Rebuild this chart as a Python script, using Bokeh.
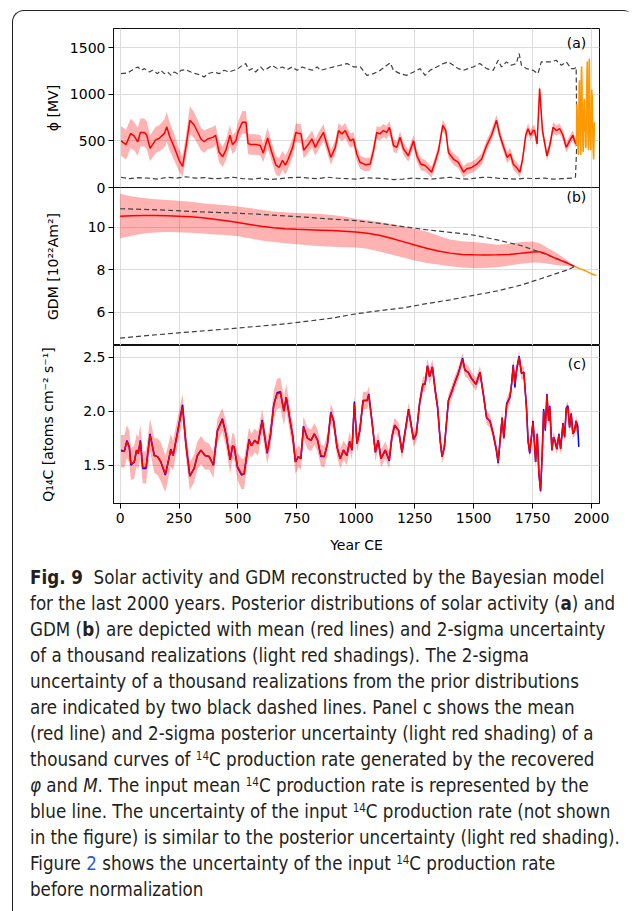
import math
import numpy as np
from bokeh.plotting import figure
from bokeh.models import Range1d, FixedTicker, Label, Div, NumeralTickFormatter
from bokeh.layouts import column, row
from bokeh.embed import file_html
from bokeh.resources import INLINE

# ---------------- data ----------------
x_ticks = [0, 250, 500, 750, 1000, 1250, 1500, 1750, 2000]

# Panel (a): solar modulation potential phi [MV]
years_a = [4,25,45,60,75,86,103,113,127,151,
           165,188,198,210,230,251,265,279,296,314,
           328,343,357,371,395,405,420,435,449,466,
           477,491,501,519,534,543,555,576,595,607,
           626,643,661,675,689,701,711,732,746,757,
           767,779,800,814,828,842,863,877,894,913,
           927,941,955,976,990,1004,1018,1040,1061,1075,
           1089,1103,1117,1131,1143,1160,1174,1188,1202,1223,
           1245,1259,1276,1294,1308,1322,1336,1351,1369,1382,
           1393,1414,1435,1457,1471,1492,1513,1534,1555,1576,
           1597,1611,1625,1642,1656,1668,1682,1696,1707,1721,
           1731,1741,1752,1759,1769,1780,1792,1802,1811,1823,
           1837,1851,1865,1879,1893,1907,1921,1933,1936]
phi_mean = [500,460,580,550,490,590,590,560,420,510,
            525,580,650,550,430,290,225,430,720,670,
            600,520,490,520,540,560,380,330,400,560,
            460,500,600,700,700,470,460,460,450,370,
            530,380,240,215,290,240,290,430,590,580,
            580,400,467,520,430,500,590,467,323,430,
            610,575,610,500,520,360,270,245,252,395,
            590,575,610,590,645,450,430,540,415,340,
            500,340,250,235,200,165,270,395,665,610,
            375,305,270,165,200,215,250,305,450,560,
            720,560,450,323,360,250,215,165,290,560,
            630,560,610,610,467,1060,610,467,340,450,
            645,610,630,560,430,500,560,467,480]
phi_sig = [160,160,160,150,150,150,150,150,140,140,
           140,150,160,150,140,120,110,120,150,140,
           130,120,120,110,110,110,110,110,110,110,
           100,100,110,120,120,110,110,110,110,100,
           110,100,100,100,100,100,100,100,100,100,
           100,90,90,90,90,90,90,80,80,80,
           80,80,80,75,75,75,70,70,70,70,
           70,70,70,70,70,65,65,65,65,65,
           65,65,65,60,60,60,60,60,60,60,
           60,60,60,60,60,60,60,60,60,60,
           60,60,60,60,60,60,60,55,55,55,
           55,55,55,55,55,55,55,55,55,55,
           55,55,55,55,55,55,50,40,30]
phi_prior_hi_years = [4,32,60,75,89,103,124,138,159,173,
                      188,202,216,230,244,258,279,300,321,343,
                      357,371,399,420,441,462,483,500,519,533,
                      547,561,575,596,610,624,646,667,688,709,
                      730,751,772,793,815,836,850,878,906,934,
                      963,991,1019,1047,1075,1104,1132,1146,1160,1188,
                      1216,1245,1273,1294,1315,1343,1371,1393,1414,1435,
                      1456,1477,1498,1526,1555,1583,1604,1618,1639,1660,
                      1681,1693,1703,1724,1752,1773,1787,1808,1829,1850,
                      1872,1893,1914,1928,1935,1938]
phi_prior_hi = [1220,1227,1274,1292,1256,1274,1238,1256,1220,1256,
                1220,1238,1202,1238,1220,1256,1263,1238,1220,1202,
                1184,1220,1238,1220,1256,1238,1256,1274,1310,1328,
                1256,1274,1238,1292,1256,1274,1310,1274,1292,1263,
                1292,1256,1292,1274,1256,1292,1256,1274,1292,1310,
                1328,1292,1292,1202,1220,1256,1310,1335,1256,1220,
                1202,1238,1274,1202,1256,1292,1328,1346,1310,1274,
                1256,1274,1292,1328,1274,1256,1364,1292,1346,1310,
                1328,1436,1310,1274,1256,1220,1346,1346,1346,1364,
                1310,1346,1274,1274,1290,480]
phi_prior_lo_years = [4,40,80,120,160,200,240,280,320,360,
                      400,440,480,520,560,600,640,680,720,760,
                      800,840,880,920,960,1000,1040,1080,1120,1160,
                      1200,1240,1280,1320,1360,1400,1440,1480,1520,1560,
                      1600,1640,1680,1720,1760,1800,1840,1880,1920,1932,
                      1938]
phi_prior_lo = [110,95,105,100,90,110,100,115,100,105,
                95,100,110,95,90,100,85,95,105,110,
                100,95,110,100,95,90,105,100,95,85,
                90,100,95,90,100,110,95,90,105,110,
                100,95,90,100,95,100,90,95,100,110,
                480]
phi_obs_years = [1936,1937,1938,1939,1940,1941,1942,1943,1944,1945,
                 1946,1947,1948,1949,1950,1951,1952,1953,1954,1955,
                 1956,1957,1958,1959,1960,1961,1962,1963,1964,1965,
                 1966,1967,1968,1969,1970,1971,1972,1973,1974,1975,
                 1976,1977,1978,1979,1980,1981,1982,1983,1984,1985,
                 1986,1987,1988,1989,1990,1991,1992,1993,1994,1995,
                 1996,1997,1998,1999,2000,2001,2002,2003,2004,2005,
                 2006,2007,2008,2009,2010,2011,2012,2013]
phi_obs = [450,700,900,850,700,650,550,450,350,400,
           700,1000,1100,1150,900,800,600,450,350,450,
           900,1250,1300,1200,1100,800,600,500,400,380,
           500,750,900,950,900,750,700,600,650,450,
           420,450,700,1000,1100,1250,1350,1000,850,600,
           450,400,600,1100,1350,1380,1100,800,650,500,
           450,400,550,700,950,1050,1000,1000,750,700,
           500,400,350,300,400,550,650,700]

# Panel (b): geomagnetic dipole moment [1e22 Am2]
years_b = [0,50,100,150,200,250,300,350,400,450,
           500,550,600,650,700,750,800,850,900,950,
           1000,1050,1100,1150,1200,1250,1300,1350,1400,1450,
           1500,1550,1600,1650,1700,1750,1780,1800,1850,1900,1928]
gdm_mean = [10.52,10.54,10.55,10.55,10.54,10.52,10.49,10.44,10.37,10.30,
            10.22,10.13,10.04,9.97,9.93,9.90,9.88,9.86,9.84,9.81,
            9.78,9.72,9.62,9.48,9.32,9.16,9.01,8.88,8.78,8.72,
            8.70,8.69,8.70,8.72,8.77,8.83,8.85,8.78,8.52,8.30,8.15]
gdm_upper = [11.57,11.45,11.38,11.32,11.28,11.25,11.20,11.13,11.08,11.03,
             10.98,10.90,10.82,10.74,10.70,10.67,10.64,10.62,10.58,10.50,
             10.40,10.33,10.25,10.15,10.04,9.93,9.80,9.60,9.42,9.34,
             9.30,9.24,9.18,9.22,9.30,9.33,9.25,9.12,8.80,8.42,8.15]
gdm_lower = [9.48,9.60,9.70,9.75,9.77,9.76,9.74,9.70,9.66,9.63,
             9.58,9.48,9.38,9.30,9.24,9.20,9.15,9.10,9.08,9.06,
             9.05,8.98,8.86,8.72,8.57,8.43,8.32,8.24,8.16,8.10,
             8.07,8.08,8.12,8.20,8.28,8.34,8.33,8.30,8.22,8.16,8.15]
gdm_prior_years = [0,100,200,300,400,500,600,700,800,900,
                   1000,1100,1200,1300,1400,1500,1600,1700,1800,1900,1928]
gdm_prior_hi = [10.87,10.84,10.80,10.74,10.70,10.66,10.60,10.53,10.46,10.38,
                10.31,10.18,10.03,9.88,9.76,9.63,9.40,9.14,8.75,8.32,8.15]
gdm_prior_lo = [4.78,4.88,4.98,5.07,5.16,5.25,5.35,5.45,5.58,5.72,
                5.92,6.07,6.20,6.40,6.58,6.79,7.00,7.27,7.63,8.00,8.15]
gdm_obs_years = [1928,1950,1970,1990,2000,2010,2021]
gdm_obs = [8.15,8.05,7.97,7.86,7.81,7.77,7.72]

# Panel (c): 14C production rate
years_c = [4,18,29,39,46,60,70,77,86,96,
           110,127,145,159,173,192,201,215,225,244,
           265,279,296,314,328,343,360,378,396,413,
           434,449,467,477,484,498,515,526,547,557,
           571,585,603,624,638,652,666,680,695,705,
           719,733,744,756,767,778,795,810,824,838,
           852,866,880,894,906,920,934,948,962,974,
           984,994,1005,1017,1031,1048,1055,1069,1083,1095,
           1107,1125,1142,1153,1165,1182,1196,1210,1224,1245,
           1257,1271,1285,1294,1304,1313,1325,1337,1347,1358,
           1366,1376,1393,1407,1421,1435,1453,1463,1477,1492,
           1510,1527,1541,1555,1569,1583,1597,1604,1611,1621,
           1628,1640,1654,1661,1668,1675,1682,1693,1703,1713,
           1724,1731,1738,1752,1759,1763,1770,1777,1784,1791,
           1797,1804,1811,1818,1823,1832,1839,1846,1853,1862,
           1869,1879,1886,1893,1900,1907,1914,1921,1928,1935,
           1942]
q_post = [1.63,1.63,1.72,1.67,1.51,1.53,1.64,1.61,1.72,1.48,
          1.48,1.78,1.59,1.58,1.53,1.42,1.50,1.64,1.59,1.81,
          2.04,1.70,1.40,1.47,1.59,1.64,1.59,1.58,1.50,1.82,
          1.92,1.79,1.55,1.68,1.67,1.49,1.42,1.42,1.73,1.68,
          1.73,1.70,1.91,1.62,1.78,2.06,2.16,2.17,2.00,2.13,
          1.94,1.76,1.53,1.58,1.56,1.85,1.75,1.73,1.79,1.73,
          1.59,1.58,1.70,1.98,1.91,1.67,1.56,1.64,1.59,1.72,
          1.64,2.07,1.70,1.82,2.10,2.10,2.15,1.90,1.62,1.73,
          1.56,1.64,1.55,1.76,1.87,1.82,1.62,1.82,2.01,1.74,
          1.79,2.08,2.25,2.25,2.42,2.32,2.41,2.19,2.04,1.73,
          1.58,1.67,2.10,2.18,2.27,2.35,2.48,2.38,2.36,2.30,
          2.25,2.36,2.16,1.94,1.91,1.79,1.64,1.53,1.70,1.94,
          1.75,2.06,2.13,2.25,2.42,2.25,2.38,2.50,2.35,2.36,
          2.04,1.73,1.62,1.90,1.67,1.53,1.79,1.42,1.27,1.61,
          2.00,1.84,2.15,1.91,2.04,1.64,1.76,1.72,1.65,1.78,
          1.65,1.88,1.76,2.02,2.04,1.85,1.97,1.79,1.82,1.91,
          1.79]
q_sig = [0.15,0.15,0.15,0.15,0.15,0.15,0.15,0.15,0.15,0.15,
         0.15,0.15,0.16,0.17,0.18,0.17,0.16,0.15,0.14,0.13,
         0.12,0.13,0.13,0.13,0.13,0.13,0.13,0.12,0.12,0.11,
         0.11,0.12,0.13,0.12,0.12,0.13,0.14,0.14,0.12,0.11,
         0.11,0.11,0.11,0.11,0.12,0.13,0.14,0.14,0.13,0.12,
         0.12,0.12,0.11,0.10,0.10,0.10,0.10,0.10,0.10,0.10,
         0.10,0.10,0.10,0.09,0.09,0.09,0.09,0.09,0.09,0.09,
         0.09,0.08,0.08,0.08,0.08,0.08,0.08,0.08,0.08,0.08,
         0.08,0.08,0.08,0.07,0.07,0.07,0.07,0.07,0.07,0.07,
         0.07,0.07,0.07,0.07,0.07,0.07,0.07,0.07,0.07,0.07,
         0.06,0.06,0.06,0.06,0.06,0.06,0.06,0.06,0.06,0.06,
         0.06,0.06,0.06,0.06,0.06,0.06,0.06,0.06,0.06,0.06,
         0.06,0.06,0.06,0.06,0.06,0.06,0.06,0.06,0.06,0.06,
         0.06,0.06,0.06,0.06,0.06,0.06,0.06,0.06,0.06,0.06,
         0.05,0.05,0.05,0.05,0.05,0.05,0.05,0.05,0.05,0.05,
         0.05,0.05,0.05,0.05,0.05,0.05,0.05,0.05,0.05,0.05,
         0.05]
years_c_input = years_c + [1946]
q_input = [1.64,1.63,1.73,1.67,1.50,1.53,1.64,1.61,1.73,1.47,
           1.47,1.79,1.59,1.58,1.53,1.41,1.50,1.65,1.59,1.81,
           2.06,1.70,1.40,1.47,1.59,1.64,1.59,1.58,1.50,1.82,
           1.93,1.79,1.55,1.68,1.67,1.48,1.41,1.42,1.74,1.68,
           1.73,1.70,1.92,1.61,1.78,2.06,2.17,2.18,2.00,2.13,
           1.94,1.76,1.53,1.58,1.56,1.86,1.75,1.73,1.79,1.73,
           1.58,1.58,1.70,1.99,1.91,1.67,1.56,1.64,1.59,1.72,
           1.64,2.09,1.70,1.82,2.10,2.10,2.16,1.90,1.62,1.73,
           1.56,1.64,1.54,1.76,1.87,1.82,1.62,1.82,2.02,1.74,
           1.79,2.08,2.25,2.25,2.42,2.32,2.41,2.19,2.04,1.73,
           1.58,1.67,2.10,2.18,2.27,2.35,2.49,2.38,2.36,2.30,
           2.25,2.36,2.16,1.94,1.91,1.79,1.63,1.52,1.70,1.94,
           1.75,2.07,2.13,2.25,2.43,2.22,2.38,2.51,2.35,2.36,
           2.04,1.72,1.61,1.91,1.67,1.53,1.79,1.42,1.26,1.61,
           2.02,1.82,2.16,1.91,2.05,1.64,1.76,1.72,1.65,1.79,
           1.65,1.89,1.76,2.03,2.05,1.85,1.98,1.79,1.82,1.91,
           1.86,1.67]

y_labels = ["ϕ [MV]", "GDM [10²²Am²]", "Q₁₄C [atoms cm⁻² s⁻¹]"]
panel_tags = ["(a)", "(b)", "(c)"]

# ---------------- styling helpers ----------------
FONT = "DejaVu Sans"
LW = 50          # width of the strip that holds the vertical axis titles
W = 622 - LW     # width of each plot figure
DASH = "5 3"
HA, HB, HC, OVER = 184, 158, 215, 8
xr = Range1d(-28, 2034)


def make_panel(height, yr, yticks, top=0, bottom=0, show_x=False):
    p = figure(width=W, height=height, x_range=xr, y_range=yr,
               output_backend="svg", toolbar_location=None,
               min_border_left=100 - LW, min_border_right=36,
               min_border_top=top, min_border_bottom=bottom)
    p.outline_line_color = "#111111"
    p.outline_line_width = 1
    p.outline_line_alpha = 1
    p.background_fill_color = "white"
    p.border_fill_color = "white"
    p.xaxis.ticker = FixedTicker(ticks=x_ticks)
    p.xgrid.ticker = FixedTicker(ticks=x_ticks)
    p.yaxis.ticker = FixedTicker(ticks=yticks)
    p.ygrid.ticker = FixedTicker(ticks=yticks)
    p.grid.grid_line_color = "#dcdcdc"
    p.grid.grid_line_width = 1
    for ax in (p.xaxis, p.yaxis):
        ax.axis_line_color = "#111111"
        ax.major_tick_line_color = "black"
        ax.major_tick_out = 5
        ax.major_tick_in = 0
        ax.minor_tick_line_color = None
        ax.major_label_text_font = FONT
        ax.major_label_text_font_size = "14px"
        ax.major_label_text_color = "black"
        ax.axis_label_text_font = FONT
        ax.axis_label_text_font_size = "14px"
        ax.axis_label_text_font_style = "normal"
        ax.axis_label_text_color = "black"
        ax.major_label_standoff = 3
    if not show_x:
        p.xaxis.visible = False
    return p


def tag(p, text, y):
    p.add_layout(Label(x=1978, y=y, text=text, text_align="right", text_baseline="middle",
                       text_font=FONT, text_font_size="14px", text_color="black"))


# ---------------- panel (a) ----------------
pa = make_panel(HA, Range1d(0, 1704), [0, 500, 1000, 1500], top=17, bottom=OVER)
pm = np.array(phi_mean, dtype=float)
ps = np.array(phi_sig, dtype=float)
pa.varea(x=years_a, y1=pm - ps, y2=pm + ps, fill_color="red", fill_alpha=0.3)
pa.line(phi_prior_hi_years, phi_prior_hi, line_color="#404040", line_width=1.2, line_dash=DASH)
pa.line(phi_prior_lo_years, phi_prior_lo, line_color="#404040", line_width=1.2, line_dash=DASH)
pa.line(years_a, phi_mean, line_color="red", line_width=1.5)
pa.line(phi_obs_years, phi_obs, line_color="#ff9900", line_width=1.5)
tag(pa, panel_tags[0], 1547)

# ---------------- panel (b) ----------------
pb = make_panel(HB, Range1d(4.43, 11.87), [6, 8, 10])
pb.border_fill_alpha = 0
pb.margin = (-OVER, 0, 0, 0)
pb.varea(x=years_b, y1=gdm_lower, y2=gdm_upper, fill_color="red", fill_alpha=0.3)
pb.line(gdm_prior_years, gdm_prior_hi, line_color="#404040", line_width=1.2, line_dash=DASH)
pb.line(gdm_prior_years, gdm_prior_lo, line_color="#404040", line_width=1.2, line_dash=DASH)
pb.line(years_b, gdm_mean, line_color="red", line_width=1.5)
pb.line(gdm_obs_years, gdm_obs, line_color="#ff9900", line_width=1.5)
tag(pb, panel_tags[1], 11.41)

# ---------------- panel (c) ----------------
pc = make_panel(HC, Range1d(1.146, 2.608), [1.5, 2.0, 2.5], bottom=57, show_x=True)
pc.yaxis.formatter = NumeralTickFormatter(format="0.0")
pc.xaxis.axis_label = "Year CE"
pc.xaxis.major_label_standoff = 4
pc.xaxis.axis_label_standoff = 11
qm = np.array(q_post, dtype=float)
qs = np.array(q_sig, dtype=float)
pc.varea(x=years_c, y1=qm - qs, y2=qm + qs, fill_color="red", fill_alpha=0.3)
pc.line(years_c_input, q_input, line_color="blue", line_width=1.5)
pc.line(years_c, q_post, line_color="red", line_width=1.5)
tag(pc, panel_tags[2], 2.44)

# ---------------- strip with the three rotated y-axis titles ----------------
HS = HA + HB + HC - OVER
strip = figure(width=LW, height=HS, x_range=Range1d(0, LW), y_range=Range1d(0, HS),
               output_backend="svg", toolbar_location=None,
               min_border=0, min_border_left=0, min_border_right=0,
               min_border_top=0, min_border_bottom=0)
strip.axis.visible = False
strip.grid.visible = False
strip.outline_line_color = None
strip.background_fill_alpha = 0
strip.border_fill_alpha = 0
# centres of each panel's frame, measured from the strip bottom
label_pos = [(39, HS - 96.5), (39, HC + 79), (34, 136)]
for txt, (lx, ly) in zip(y_labels, label_pos):
    strip.add_layout(Label(x=lx, y=ly, text=txt, angle=math.pi / 2,
                           text_align="center", text_baseline="middle",
                           text_font=FONT, text_font_size="14px", text_color="black"))

# ---------------- caption ----------------
sup = '<sup style="font-size:0.62em;line-height:0;vertical-align:0.55em">14</sup>'
caption_lines = [
    '<b>Fig. 9</b>&nbsp;&nbsp;Solar activity and GDM reconstructed by the Bayesian model',
    'for the last 2000 years. Posterior distributions of solar activity (<b>a</b>) and',
    'GDM (<b>b</b>) are depicted with mean (red lines) and 2-sigma uncertainty',
    'of a thousand realizations (light red shadings). The 2-sigma',
    'uncertainty of a thousand realizations from the prior distributions',
    'are indicated by two black dashed lines. Panel c shows the mean',
    '(red line) and 2-sigma posterior uncertainty (light red shading) of a',
    'thousand curves of ' + sup + 'C production rate generated by the recovered',
    '<i>φ</i> and <i>M</i>. The input mean ' + sup + 'C production rate is represented by the',
    'blue line. The uncertainty of the input ' + sup + 'C production rate (not shown',
    'in the figure) is similar to the posterior uncertainty (light red shading).',
    'Figure <span style="color:#1f5bd0">2</span> shows the uncertainty of the input ' + sup + 'C production rate',
    'before normalization',
]
html = ('<div style="font-family:\'DejaVu Sans Condensed\',sans-serif;'
        'font-size:18.6px;line-height:26px;color:#231f20;padding:5px 0 0 17px;white-space:nowrap;">'
        + '<br>'.join(caption_lines) + '</div>')
cap = Div(text=html, width=622, height=351, margin=0)

panels = column(pa, pb, pc, spacing=0)
top_block = row(strip, panels, spacing=0)

root = column(top_block, cap, margin=(10, 0, 0, 12), spacing=0,
              styles={"border-left": "1px solid #222", "border-top": "1px solid #222",
                      "border-top-left-radius": "12px", "border-top-right-radius": "12px"})

open("out.html", "w").write(file_html(root, INLINE))
